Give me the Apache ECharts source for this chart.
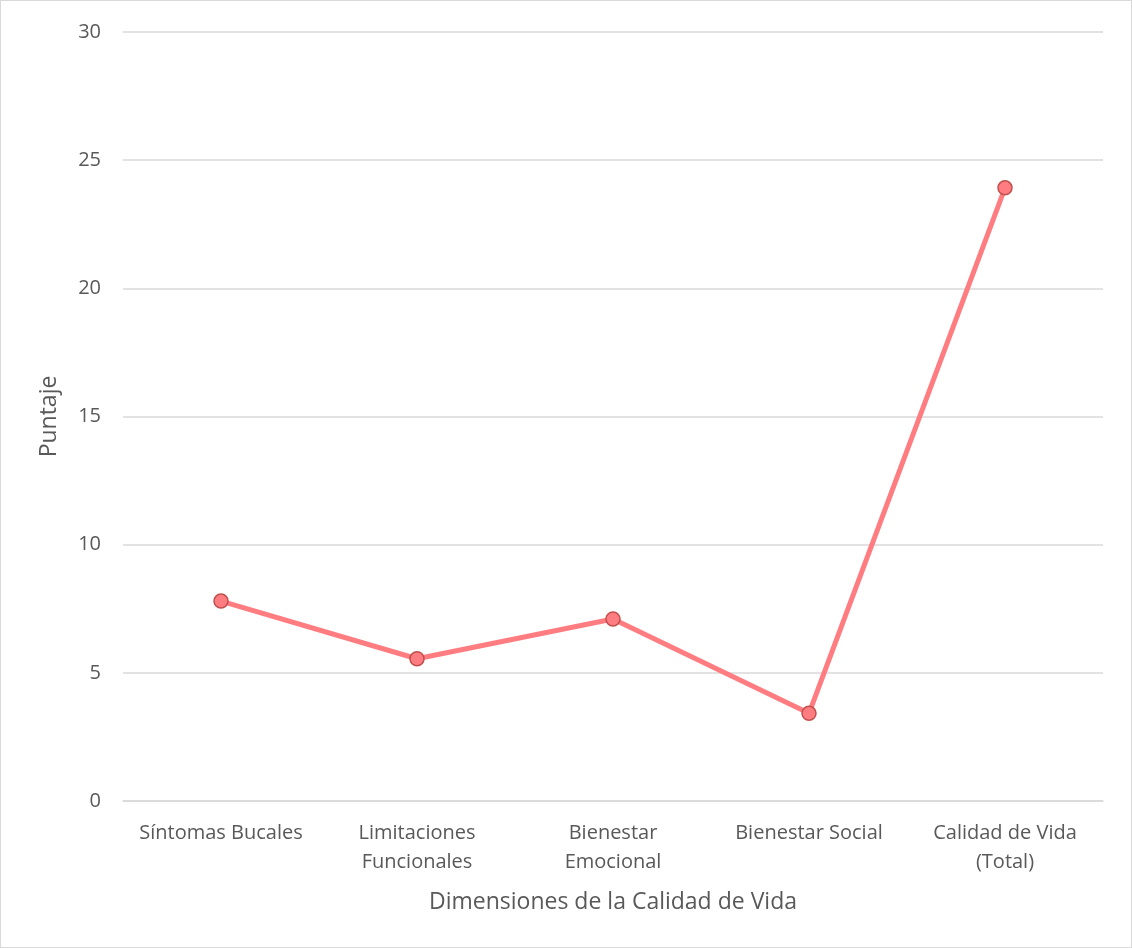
<!DOCTYPE html>
<html>
<head>
<meta charset="utf-8">
<script src="https://cdn.jsdelivr.net/npm/echarts@6/dist/echarts.min.js"></script>
<style>
  html, body { margin: 0; padding: 0; background: #fff; }
  #chart { width: 1130px; height: 946px; border: 1px solid #d9d9d9; }
</style>
</head>
<body>
<div id="chart"></div>
<script>
// categorías del eje x
const categories = ['Síntomas Bucales', 'Limitaciones\nFuncionales', 'Bienestar\nEmocional', 'Bienestar Social', 'Calidad de Vida\n(Total)'];
// puntajes
const puntajes = [7.8, 5.55, 7.1, 3.42, 23.92];
const yTicks = [0, 5, 10, 15, 20, 25, 30];

const textColor = '#595959';
const font = 'Open Sans';

const myChart = echarts.init(document.getElementById('chart'));

const option = {
  animation: false,
  grid: { left: 122, right: 28, top: 31, bottom: 146 },
  xAxis: {
    type: 'category',
    data: categories,
    name: 'Dimensiones de la Calidad de Vida',
    nameLocation: 'middle',
    nameGap: 90,
    nameTextStyle: { color: textColor, fontSize: 23, fontFamily: font },
    axisLine: { lineStyle: { color: '#d9d9d9', width: 1.5 } },
    axisTick: { show: false },
    axisLabel: { interval: 0, hideOverlap: false, color: textColor, fontSize: 20, fontFamily: font, margin: 18, lineHeight: 29 }
  },
  yAxis: {
    type: 'value',
    min: yTicks[0],
    max: yTicks[yTicks.length - 1],
    interval: 5,
    name: 'Puntaje',
    nameLocation: 'middle',
    nameGap: 62,
    nameTextStyle: { color: textColor, fontSize: 23, fontFamily: font },
    axisLine: { show: false },
    axisTick: { show: false },
    axisLabel: { color: textColor, fontSize: 20, fontFamily: font, margin: 22 },
    splitLine: { lineStyle: { color: '#d9d9d9', width: 1.5 } }
  },
  series: [{
    type: 'line',
    data: puntajes,
    symbol: 'circle',
    symbolSize: 14,
    lineStyle: { color: '#ff7c80', width: 5 },
    itemStyle: { color: '#ff7c80', borderColor: '#c0504d', borderWidth: 1.5 }
  }]
};
myChart.setOption(option);
</script>
</body>
</html>
